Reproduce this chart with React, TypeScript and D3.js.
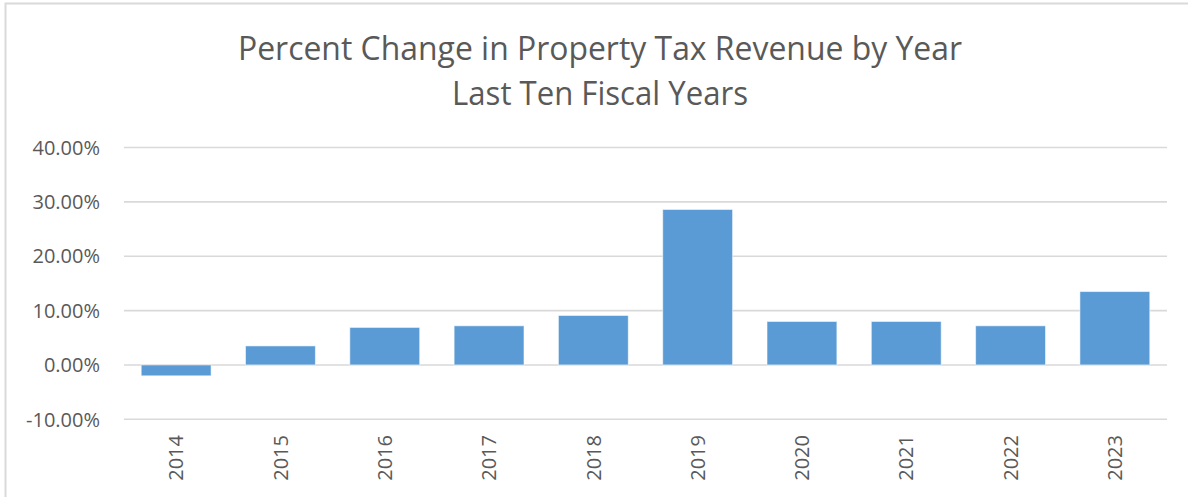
import React from "react";
import * as d3 from "d3";

const years = ["2014", "2015", "2016", "2017", "2018", "2019", "2020", "2021", "2022", "2023"];
const pctChange = [-2.0, 3.5, 6.9, 7.2, 9.1, 28.6, 8.0, 8.0, 7.2, 13.5];
const yTicks = [-10, 0, 10, 20, 30, 40];
const titleLines = ["Percent Change in Property Tax Revenue by Year", "Last Ten  Fiscal Years"];

const W = 1188;
const H = 497;
const FONT = "'Open Sans', 'Noto Sans', sans-serif";
const TEXT = "#595959";

export default function App() {
  const x = d3.scaleBand<string>().domain(years).range([124, 1167]).paddingInner(0.33).paddingOuter(0.165);
  const y = d3.scaleLinear().domain([-10, 40]).range([419.3, 147.5]);
  const fmt = (v: number) => v.toFixed(2) + "%";

  return (
    <svg width={W} height={H} style={{ position: "absolute", left: 0, top: 0, background: "#fff" }}>
      <rect x={5.5} y={3.5} width={W + 20} height={H + 20} fill="#fff" stroke="#d9d9d9" strokeWidth={2} />
      <text x={600} y={60} textAnchor="middle" fontFamily={FONT} fontSize={32} fill={TEXT} textLength={724} lengthAdjust="spacingAndGlyphs">
        {titleLines[0]}
      </text>
      <text x={600} y={105} textAnchor="middle" fontFamily={FONT} fontSize={32} fill={TEXT} textLength={296} lengthAdjust="spacingAndGlyphs">
        {titleLines[1]}
      </text>
      {yTicks.map((t) => (
        <g key={t}>
          <line x1={124} x2={1167} y1={y(t)} y2={y(t)} stroke="#d9d9d9" strokeWidth={1.6} />
          <text x={100} y={y(t)} dy="0.36em" textAnchor="end" fontFamily={FONT} fontSize={20} fill={TEXT}>
            {fmt(t)}
          </text>
        </g>
      ))}
      {years.map((yr, i) => {
        const v = pctChange[i];
        const y0 = y(0);
        const y1 = y(v);
        return (
          <rect
            key={yr}
            x={x(yr)!}
            y={Math.min(y0, y1)}
            width={x.bandwidth()}
            height={Math.abs(y1 - y0)}
            fill="#5B9BD5"
            stroke="rgba(255,255,255,0.55)"
            strokeWidth={1}
          />
        );
      })}
      {years.map((yr) => {
        const cx = x(yr)! + x.bandwidth() / 2;
        return (
          <text
            key={yr}
            transform={`translate(${cx},435) rotate(-90)`}
            dy="0.36em"
            textAnchor="end"
            fontFamily={FONT}
            fontSize={20}
            fill={TEXT}
          >
            {yr}
          </text>
        );
      })}
    </svg>
  );
}
